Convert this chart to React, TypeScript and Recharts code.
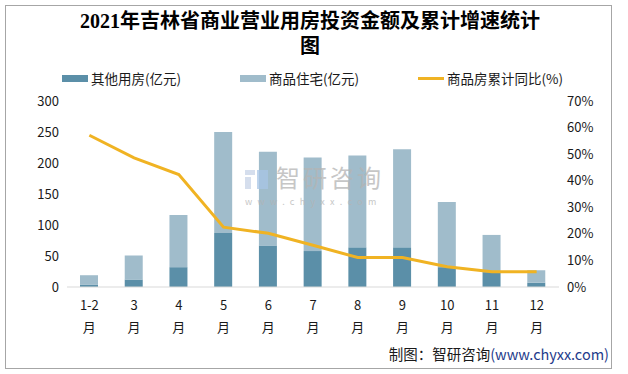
import { ComposedChart, Bar, Line, XAxis, YAxis } from 'recharts'

const months = ['1-2月', '3月', '4月', '5月', '6月', '7月', '8月', '9月', '10月', '11月', '12月']
const otherUse = [4, 12, 32, 87, 67, 58, 64, 64, 32, 24, 7]
const residential = [15, 39, 84, 163, 151, 151, 148, 158, 105, 60, 20]
const growth = [57.1, 48.6, 42.3, 22.5, 20.2, 15.7, 11.1, 11.1, 7.6, 5.7, 5.7]
const leftTicks = [0, 50, 100, 150, 200, 250, 300]
const rightTicks = [0, 10, 20, 30, 40, 50, 60, 70]

const DARK = '#5b8fa8'
const LIGHT = '#a0bccb'
const GOLD = '#f0b323'
const FONT = '"Noto Sans CJK SC", "Noto Sans", sans-serif'

const data = months.map((m, i) => ({
  month: m,
  other: otherUse[i],
  residential: residential[i],
  growth: growth[i],
}))

const MonthTick = ({ x, y, payload }: any) => {
  const label: string = payload.value
  const num = label.replace('月', '')
  return (
    <g transform={`translate(${x},${y})`}>
      <text x={0} y={15} textAnchor="middle" fontSize={13} fill="#1a1a1a" fontFamily={FONT}>{num}</text>
      <text x={0} y={37} textAnchor="middle" fontSize={13} fill="#1a1a1a" fontFamily={FONT}>月</text>
    </g>
  )
}

const legendItems = [
  { name: '其他用房(亿元)', color: DARK, left: 62, line: false },
  { name: '商品住宅(亿元)', color: LIGHT, left: 240, line: false },
  { name: '商品房累计同比(%)', color: GOLD, left: 418, line: true },
]

export default function App() {
  return (
    <div style={{ position: 'absolute', left: 0, top: 0, width: 628, height: 374, background: '#fff', fontFamily: FONT }}>
      <div style={{ position: 'absolute', left: 5, top: 5, width: 605, height: 362, border: '1px solid #a6a6a6' }} />
      <div style={{ position: 'absolute', left: 0, top: 9, width: 620, textAlign: 'center', fontSize: 20, fontWeight: 700, lineHeight: '25px', color: '#000', fontFamily: '"Liberation Serif", "Noto Sans CJK SC", serif' }}>
        2021年吉林省商业营业用房投资金额及累计增速统计<br />图
      </div>
      {legendItems.map(item => (
        <div key={item.name} style={{ position: 'absolute', left: item.left, top: 68, display: 'flex', alignItems: 'center', fontSize: 13.5, color: '#1a1a1a' }}>
          <div style={{ width: 26, height: item.line ? 3 : 7, background: item.color, marginRight: 3 }} />
          <span>{item.name}</span>
        </div>
      ))}
      <div style={{ position: 'absolute', right: 19, top: 343, fontSize: 14.5, color: '#1a1a1a', whiteSpace: 'nowrap' }}>
        制图：智研咨询<span style={{ color: '#1f3c8c' }}>(www.chyxx.com)</span>
      </div>
      <div style={{ position: 'absolute', left: 0, top: 0 }}>
        <ComposedChart width={628} height={374} data={data} margin={{ top: 101, right: 24, bottom: 37, left: 27 }}>
          <XAxis dataKey="month" tick={<MonthTick />} tickLine={false} axisLine={{ stroke: '#d9d9d9' }} interval={0} height={50} />
          <YAxis yAxisId="left" domain={[0, 300]} ticks={leftTicks} width={40} axisLine={false} tickLine={false}
            tick={{ fontSize: 13, fill: '#1a1a1a', fontFamily: FONT }} />
          <YAxis yAxisId="right" orientation="right" domain={[0, 70]} ticks={rightTicks} width={45} axisLine={false} tickLine={false}
            tickFormatter={(v: number) => `${v}%`} tick={{ fontSize: 13, fill: '#1a1a1a', fontFamily: FONT, textAnchor: 'start' }} />
          <Bar yAxisId="left" dataKey="other" stackId="a" fill={DARK} barSize={18} isAnimationActive={false} />
          <Bar yAxisId="left" dataKey="residential" stackId="a" fill={LIGHT} barSize={18} isAnimationActive={false} />
          <Line yAxisId="right" dataKey="growth" type="linear" stroke={GOLD} strokeWidth={3} dot={false} isAnimationActive={false} />
        </ComposedChart>
      </div>
      {/* watermark sits on top of the bars */}
      <div style={{ position: 'absolute', left: 245, top: 162, color: '#b4b4b4', opacity: 0.75, pointerEvents: 'none' }}>
        <svg width={24} height={24} style={{ position: 'absolute', left: 0, top: 6 }}>
          <rect x={0} y={2} width={10} height={5} fill="#c8d4e8" />
          <rect x={0} y={9} width={6} height={12} fill="#c8d4e8" />
          <rect x={12} y={2} width={11} height={19} fill="#a9c6e6" />
        </svg>
        <div style={{ fontSize: 24, letterSpacing: 3, paddingLeft: 31, lineHeight: '30px' }}>智研咨询</div>
        <div style={{ fontSize: 9, letterSpacing: 5.3, lineHeight: '12px', marginTop: 4, whiteSpace: 'nowrap' }}>www.chyxx.com</div>
      </div>
    </div>
  )
}
